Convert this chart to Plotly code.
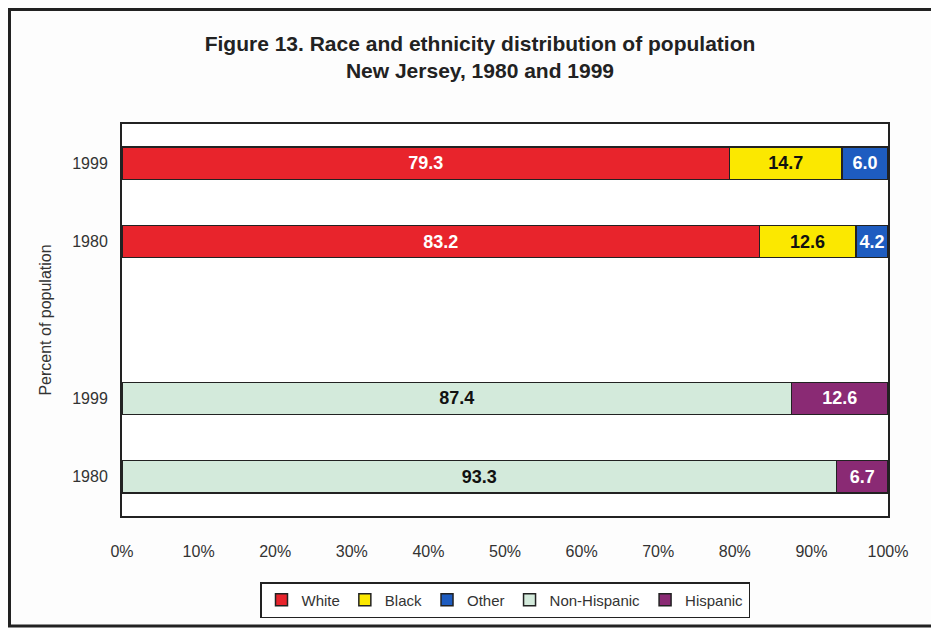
import plotly.graph_objects as go

# Data
rows = ["race_1999", "race_1980", "gap", "eth_1999", "eth_1980"]
row_labels = ["1999", "1980", "", "1999", "1980"]
race_rows = ["race_1999", "race_1980"]
eth_rows = ["eth_1999", "eth_1980"]
white = [79.3, 83.2]
black = [14.7, 12.6]
other = [6.0, 4.2]
non_hispanic = [87.4, 93.3]
hispanic = [12.6, 6.7]
x_ticks = [0, 10, 20, 30, 40, 50, 60, 70, 80, 90, 100]

series = [
    ("White", race_rows, white, "#e8242c", "white"),
    ("Black", race_rows, black, "#fbe800", "#111111"),
    ("Other", race_rows, other, "#1e5cc0", "white"),
    ("Non-Hispanic", eth_rows, non_hispanic, "#d3eadb", "#111111"),
    ("Hispanic", eth_rows, hispanic, "#8a2a74", "white"),
]

FONT = "Liberation Sans, Arial"

fig = go.Figure()
for name, ys, xs, color, tcolor in series:
    fig.add_trace(go.Bar(
        name=name, y=ys, x=xs, orientation="h",
        marker=dict(color=color, line=dict(color="#222222", width=1.5)),
        text=[f"{v:.1f}" for v in xs], textposition="inside",
        insidetextanchor="middle", cliponaxis=False,
        textfont=dict(family=FONT, size=18, color=tcolor, weight="bold"),
        width=0.41,
    ))

# page has an 8px body margin; work in page coordinates and convert
OFF = 8
W, H = 939, 628
PL, PR, PT, PB = 122, 888, 124, 516  # plot area in page pixels
L, R, T, B = PL - OFF, W - (PR - OFF), PT - OFF, H - (PB - OFF)
pw, ph = W - L - R, H - T - B

def px_x(p):
    return (p - OFF - L) / pw

def px_y(p):
    return (H - B - (p - OFF)) / ph

fig.update_layout(
    width=W, height=H,
    margin=dict(l=L, r=R, t=T, b=B, autoexpand=False),
    barmode="stack",
    paper_bgcolor="#fdfdfd", plot_bgcolor="white",
    font=dict(family=FONT, size=16, color="#333333"),
    title=dict(
        text="Figure 13. Race and ethnicity distribution of population<br>New Jersey, 1980 and 1999",
        xref="container", x=(480 - OFF) / W, xanchor="center",
        yref="container", y=1 - (51 - OFF) / H, yanchor="top",
        font=dict(family=FONT, size=21, color="#222222", weight="bold"),
    ),
    xaxis=dict(
        range=[0, 100], tickvals=x_ticks, ticktext=[f"{v}%" for v in x_ticks],
        showgrid=False, zeroline=False, showline=True, linecolor="#222222", linewidth=2,
        mirror=True, ticks="", ticklabelstandoff=20, fixedrange=True,
        tickfont=dict(size=16, color="#333333"),
    ),
    yaxis=dict(
        type="category", categoryorder="array", categoryarray=rows,
        autorange="reversed", tickvals=rows, ticktext=row_labels,
        showgrid=False, zeroline=False, showline=True, linecolor="#222222", linewidth=2,
        mirror=True, ticks="", ticklabelstandoff=9, automargin=False,
        tickfont=dict(size=16, color="#333333"),
        title=dict(text="Percent of population", standoff=17,
                   font=dict(size=16, color="#333333")),
    ),
    legend=dict(
        orientation="h", x=0.5, xanchor="center", y=px_y(582), yanchor="top",
        bordercolor="#222222", borderwidth=1.5, bgcolor="white",
        font=dict(size=15, color="#333333"), traceorder="normal",
        itemwidth=30, tracegroupgap=0,
    ),
    shapes=[dict(
        type="rect", xref="paper", yref="paper",
        x0=px_x(OFF + 1.5), x1=px_x(960), y0=px_y(626), y1=px_y(OFF + 1.5),
        line=dict(color="#222222", width=3), layer="below",
    )],
)

fig.write_html("out.html")
